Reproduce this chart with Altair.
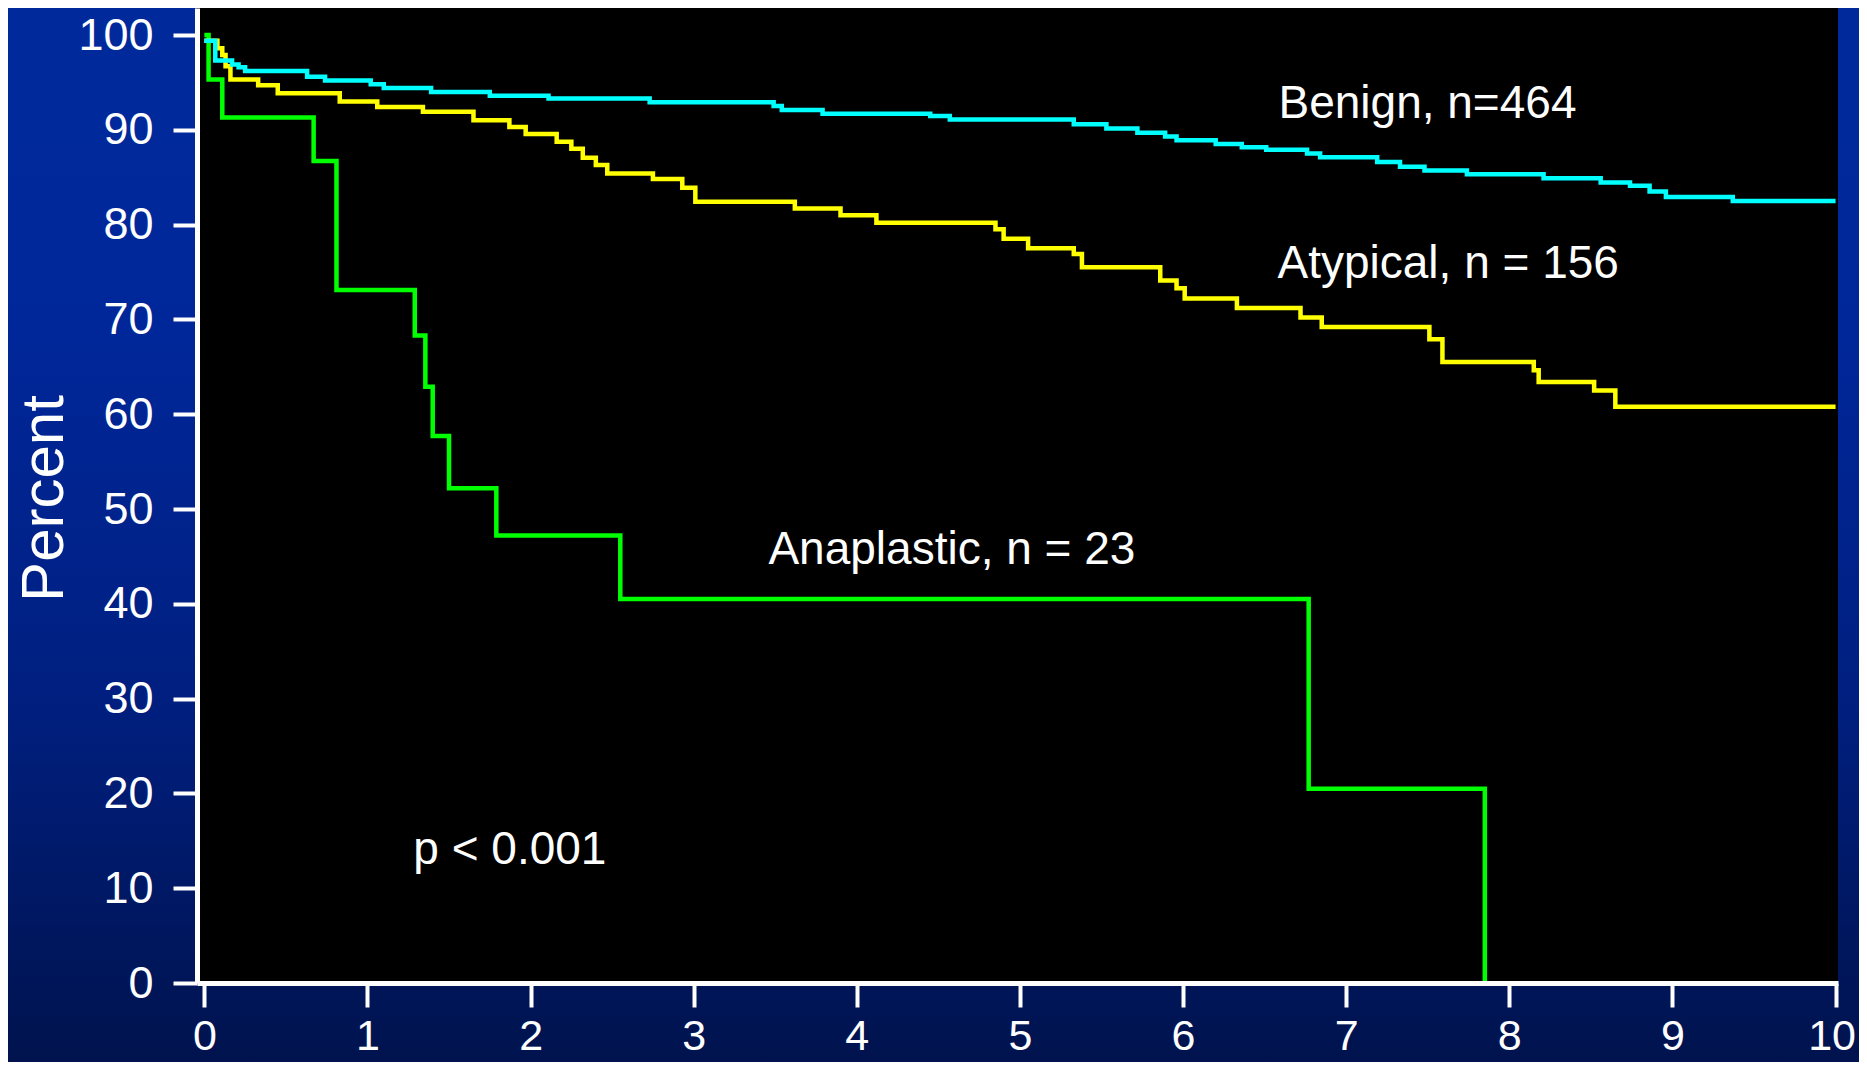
import altair as alt
import pandas as pd

# ---- data (years, percent) ----
benign_t = [0, 0.067, 0.17, 0.21, 0.25, 0.63, 0.74, 1.02, 1.10, 1.39, 1.75, 2.11, 2.73,
            3.49, 3.54, 3.79, 4.45, 4.57, 5.33, 5.53, 5.72, 5.89, 5.96, 6.20, 6.36, 6.51,
            6.76, 6.84, 7.19, 7.33, 7.48, 7.74, 8.21, 8.56, 8.74, 8.86, 8.96, 9.37, 10.0]
benign_s = [99.4, 97.3, 96.9, 96.6, 96.2, 95.6, 95.2, 94.8, 94.4, 94.0, 93.6, 93.3, 92.9,
            92.5, 92.1, 91.7, 91.45, 91.1, 90.6, 90.15, 89.7, 89.3, 88.9, 88.5, 88.15, 87.9,
            87.5, 87.1, 86.6, 86.1, 85.7, 85.3, 84.9, 84.45, 84.1, 83.5, 82.9, 82.5, 82.5]

atypical_t = [0, 0.08, 0.11, 0.13, 0.16, 0.33, 0.45, 0.83, 1.06, 1.34, 1.65, 1.87, 1.97,
              2.16, 2.25, 2.32, 2.40, 2.47, 2.75, 2.93, 3.01, 3.62, 3.90, 4.12, 4.85, 4.90,
              5.05, 5.33, 5.38, 5.86, 5.96, 6.01, 6.33, 6.72, 6.85, 7.51, 7.59, 8.15, 8.18,
              8.52, 8.65, 10.0]
atypical_s = [99.4, 98.6, 97.9, 96.7, 95.3, 94.7, 93.85, 93.0, 92.4, 91.9, 91.0, 90.3, 89.55,
              88.75, 88.0, 87.05, 86.3, 85.4, 84.8, 83.9, 82.4, 81.7, 81.0, 80.2, 79.5, 78.5,
              77.5, 76.9, 75.5, 74.1, 73.3, 72.2, 71.2, 70.2, 69.2, 67.9, 65.5, 64.65, 63.4,
              62.5, 60.8, 60.8]

anaplastic_t = [0, 0.026, 0.11, 0.67, 0.81, 1.29, 1.355, 1.40, 1.50, 1.79, 2.55, 6.77, 7.85]
anaplastic_s = [100, 95.3, 91.3, 86.7, 73.1, 68.3, 62.9, 57.7, 52.2, 47.2, 40.5, 20.5, 0]

series_names = ["Anaplastic", "Atypical", "Benign"]
series_colors = ["#00FF00", "#FFFF00", "#00FFFF"]

x_ticks = [0, 1, 2, 3, 4, 5, 6, 7, 8, 9, 10]
y_ticks = [0, 10, 20, 30, 40, 50, 60, 70, 80, 90, 100]

ann_labels = ["Benign, n=464", "Atypical, n = 156", "Anaplastic, n = 23", "p < 0.001"]
ann_t = [6.585, 6.579, 3.458, 1.281]
ann_s = [91.2, 74.4, 44.2, 12.6]

# ---- tables ----
rows = []
for name, ts, ss in [("Anaplastic", anaplastic_t, anaplastic_s),
                     ("Atypical", atypical_t, atypical_s),
                     ("Benign", benign_t, benign_s)]:
    for i, (t, s) in enumerate(zip(ts, ss)):
        rows.append({"series": name, "t": t, "s": s, "i": i})
df = pd.DataFrame(rows)
ann_df = pd.DataFrame({"label": ann_labels, "t": ann_t, "s": ann_s})
one = pd.DataFrame({"k": [0]})

W, H = 1641, 975
PAD_L, PAD_T, PAD_R, PAD_B = 189, 0, 21, 79
FONT = "Liberation Sans"

xscale = alt.Scale(domain=[-0.045, 10.015], nice=False, zero=False)
yscale = alt.Scale(domain=[0, 102.85], nice=False, zero=False)

gradient = alt.Gradient(
    gradient="linear", x1=0, x2=0, y1=0, y2=1,
    stops=[alt.GradientStop(color="#002A9C", offset=0),
           alt.GradientStop(color="#00279A", offset=0.3),
           alt.GradientStop(color="#001F80", offset=0.65),
           alt.GradientStop(color="#00134E", offset=1)])

bg = alt.Chart(one).mark_rect(color=gradient).encode(
    x=alt.value(-PAD_L), x2=alt.value(W + PAD_R),
    y=alt.value(-PAD_T), y2=alt.value(H + PAD_B))

plot_bg = alt.Chart(one).mark_rect(color="#000000").encode(
    x=alt.value(0), x2=alt.value(W), y=alt.value(0), y2=alt.value(H))

x_axis = alt.Axis(values=x_ticks, title=None, grid=False, format=".0f",
                  domainColor="white", domainWidth=5, tickColor="white", tickWidth=4,
                  tickSize=24, labelColor="white", labelFont=FONT, labelFontSize=43,
                  labelPadding=8, labelFlush=5, labelFlushOffset=20, zindex=2)
y_axis = alt.Axis(values=y_ticks, title="Percent", grid=False, format=".0f",
                  domainColor="white", domainWidth=5, tickColor="white", tickWidth=4,
                  tickSize=24, labelColor="white", labelFont=FONT, labelFontSize=45,
                  labelPadding=20, labelFlush=False,
                  titleColor="white", titleFont=FONT, titleFontSize=60,
                  titleFontWeight="normal", titleX=-135, titleY=490,
                  titleBaseline="alphabetic", titleAlign="center",
                  zindex=2)

lines = alt.Chart(df).mark_line(interpolate="step-after", strokeWidth=4.5,
                                strokeCap="butt", strokeJoin="miter").encode(
    x=alt.X("t:Q", scale=xscale, axis=x_axis),
    y=alt.Y("s:Q", scale=yscale, axis=y_axis),
    color=alt.Color("series:N", scale=alt.Scale(domain=series_names, range=series_colors),
                    legend=None),
    order=alt.Order("i:Q"),
)

texts = alt.Chart(ann_df).mark_text(align="left", baseline="alphabetic", font=FONT,
                                    fontSize=46, color="white").encode(
    x=alt.X("t:Q", scale=xscale),
    y=alt.Y("s:Q", scale=yscale),
    text="label:N",
)

chart = alt.layer(bg, plot_bg, lines, texts).properties(
    width=W, height=H,
    autosize=alt.AutoSizeParams(type="none"),
    padding={"left": PAD_L, "top": PAD_T, "right": PAD_R, "bottom": PAD_B},
    background="#00217F",
).configure_view(stroke="transparent")

chart.save("out.html", embed_options={"renderer": "svg", "actions": False})
